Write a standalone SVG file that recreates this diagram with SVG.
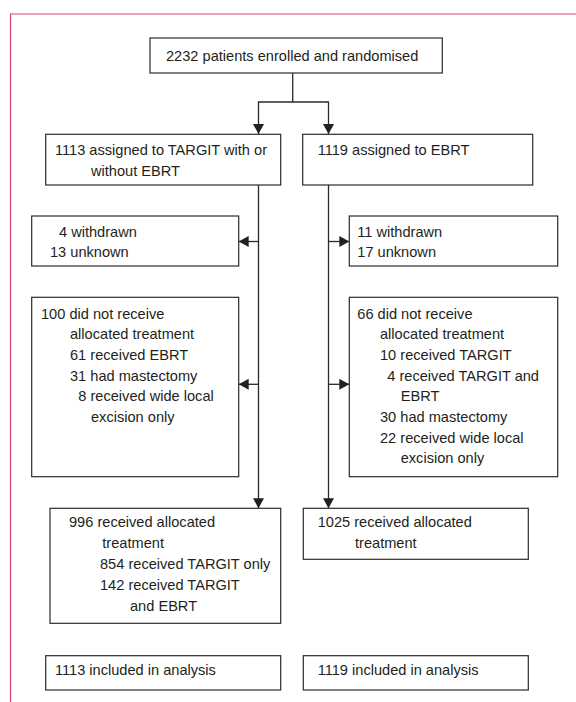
<svg xmlns="http://www.w3.org/2000/svg" width="576" height="702" viewBox="0 0 576 702">
  <style>
    .box { fill: #ffffff; stroke: #2b2b2b; stroke-width: 1.2; }
    .conn { fill: none; stroke: #2b2b2b; stroke-width: 1.3; }
    text { font-family: "Liberation Sans", Arial, sans-serif; font-size: 14.6px; fill: #231f20; }
    .frame { fill: none; stroke: #d9416f; stroke-width: 1.2; }
  </style>
  <defs>
    <marker id="arrow" markerUnits="userSpaceOnUse" markerWidth="11" markerHeight="11" refX="10" refY="5.5" orient="auto">
      <path d="M0,0 L10,5.5 L0,11 z" fill="#231f20"/>
    </marker>
  </defs>
  <rect width="576" height="702" fill="#ffffff"/>
  <path class="frame" d="M10.5,702 V14 H576"/>

  <g id="connectors">
    <path class="conn" d="M292.7,73 V102"/>
    <path class="conn" d="M292.7,102 H258.5 V134" marker-end="url(#arrow)"/>
    <path class="conn" d="M292.7,102 H328.5 V134" marker-end="url(#arrow)"/>
    <path class="conn" d="M258.5,185 V508.3" marker-end="url(#arrow)"/>
    <path class="conn" d="M328.5,185 V508.3" marker-end="url(#arrow)"/>
    <path class="conn" d="M258.5,241.5 H238.7" marker-end="url(#arrow)"/>
    <path class="conn" d="M258.5,384.3 H238.7" marker-end="url(#arrow)"/>
    <path class="conn" d="M328.5,241.5 H349.3" marker-end="url(#arrow)"/>
    <path class="conn" d="M328.5,384.3 H349.3" marker-end="url(#arrow)"/>
  </g>

  <g id="enrolled">
    <rect class="box" x="150" y="38" width="292.3" height="35"/>
    <text x="166" y="61">2232 patients enrolled and randomised</text>
  </g>

  <g id="assigned-targit">
    <rect class="box" x="45.7" y="134.3" width="235" height="50.7"/>
    <text x="55" y="155">1113 assigned to TARGIT with or</text>
    <text x="91" y="175.5">without EBRT</text>
  </g>

  <g id="assigned-ebrt">
    <rect class="box" x="302.7" y="134.3" width="230" height="50.7"/>
    <text x="317.7" y="155">1119 assigned to EBRT</text>
  </g>

  <g id="withdrawn-targit">
    <rect class="box" x="31.7" y="216" width="207" height="50"/>
    <text x="59" y="236.5">4 withdrawn</text>
    <text x="50" y="256.5">13 unknown</text>
  </g>

  <g id="withdrawn-ebrt">
    <rect class="box" x="349.3" y="216" width="208.4" height="50"/>
    <text x="357.3" y="236.5">11 withdrawn</text>
    <text x="357.3" y="256.5">17 unknown</text>
  </g>

  <g id="not-received-targit">
    <rect class="box" x="31.7" y="297.3" width="207" height="179.4"/>
    <text x="41" y="318.5">100 did not receive</text>
    <text x="70" y="339">allocated treatment</text>
    <text x="70" y="359.5">61 received EBRT</text>
    <text x="70" y="380.5">31 had mastectomy</text>
    <text x="78.3" y="401">8 received wide local</text>
    <text x="91" y="421.5">excision only</text>
  </g>

  <g id="not-received-ebrt">
    <rect class="box" x="349.3" y="297.3" width="208.4" height="179.4"/>
    <text x="357.3" y="318.5">66 did not receive</text>
    <text x="380" y="339">allocated treatment</text>
    <text x="380" y="359.5">10 received TARGIT</text>
    <text x="387.3" y="380.5">4 received TARGIT and</text>
    <text x="400.7" y="401">EBRT</text>
    <text x="380" y="421.5">30 had mastectomy</text>
    <text x="380" y="442.5">22 received wide local</text>
    <text x="400.7" y="463.3">excision only</text>
  </g>

  <g id="received-targit">
    <rect class="box" x="50" y="508.3" width="230.7" height="115"/>
    <text x="69" y="527">996 received allocated</text>
    <text x="102.3" y="547.7">treatment</text>
    <text x="100" y="569">854 received TARGIT only</text>
    <text x="100" y="590">142 received TARGIT</text>
    <text x="130" y="610.7">and EBRT</text>
  </g>

  <g id="received-ebrt">
    <rect class="box" x="303.3" y="508.3" width="225" height="51"/>
    <text x="317.7" y="527">1025 received allocated</text>
    <text x="355" y="547.7">treatment</text>
  </g>

  <g id="analysis-targit">
    <rect class="box" x="45.7" y="655.7" width="235" height="34.3"/>
    <text x="55" y="675">1113 included in analysis</text>
  </g>

  <g id="analysis-ebrt">
    <rect class="box" x="303.3" y="655.7" width="225" height="34.3"/>
    <text x="317.7" y="675">1119 included in analysis</text>
  </g>
</svg>
